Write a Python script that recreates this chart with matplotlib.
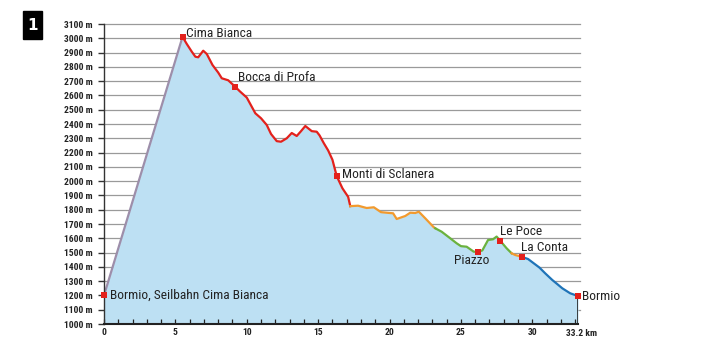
import matplotlib
matplotlib.use("Agg")
import matplotlib.pyplot as plt
from matplotlib.patches import Rectangle
from matplotlib import font_manager
from matplotlib.font_manager import FontProperties
import numpy as np, os

# ---- data ----
cable_km = [0.0, 5.5]
cable_el = [1200, 3010]

red_km = [5.5, 5.8, 6.15, 6.4, 6.6, 6.95, 7.2, 7.6, 8.0, 8.25, 8.7, 9.2, 9.5, 10.0, 10.3, 10.6,
          11.0, 11.4, 11.7, 12.1, 12.4, 12.8, 13.15, 13.5, 13.8, 14.1, 14.55, 14.9, 15.1, 15.4,
          15.7, 16.0, 16.3, 16.7, 17.1, 17.25]
red_el = [3010, 2960, 2906, 2871, 2867, 2913, 2890, 2813, 2760, 2720, 2706, 2660, 2630, 2585, 2530, 2475,
          2440, 2393, 2330, 2280, 2276, 2300, 2337, 2316, 2350, 2386, 2350, 2346, 2320, 2265,
          2215, 2150, 2035, 1950, 1890, 1825]

orange1_km = [17.25, 17.8, 18.4, 18.9, 19.4, 19.9, 20.25, 20.5, 21.1, 21.45, 21.8, 22.05, 22.5, 23.1, 23.2]
orange1_el = [1825, 1828, 1812, 1817, 1783, 1778, 1775, 1735, 1756, 1779, 1777, 1786, 1740, 1677, 1670]

green_km = [23.2, 23.65, 24.25, 24.7, 25.0, 25.4, 25.9, 26.23, 26.5, 26.9, 27.25, 27.5, 27.75, 28.2, 28.55]
green_el = [1670, 1646, 1600, 1565, 1545, 1541, 1506, 1506, 1515, 1588, 1593, 1612, 1583, 1530, 1495]

orange2_km = [28.55, 28.8, 29.27]
orange2_el = [1495, 1483, 1470]

blue_km = [29.27, 29.7, 30.1, 30.5, 30.9, 31.4, 31.8, 32.1, 32.65, 33.2]
blue_el = [1470, 1455, 1425, 1395, 1355, 1308, 1275, 1250, 1215, 1196]

wp_names = ["Bormio, Seilbahn Cima Bianca", "Cima Bianca", "Bocca di Profa", "Monti di Sclanera",
            "Piazzo", "Le Poce", "La Conta", "Bormio"]
wp_km = [0.0, 5.5, 9.2, 16.3, 26.23, 27.75, 29.27, 33.2]
wp_el = [1200, 3010, 2660, 2035, 1506, 1583, 1470, 1196]

y_ticks = list(range(1000, 3101, 100))
x_major = [0, 5, 10, 15, 20, 25, 30]
total_km = 33.2

# ---- find a narrow/condensed font file ----
files = font_manager.findSystemFonts()
def pick(keys, bold=False):
    for k in keys:
        for f in sorted(files):
            b = os.path.basename(f)
            if k.lower() in b.lower():
                isbold = "bold" in b.lower()
                if ("italic" in b.lower() or "oblique" in b.lower()):
                    continue
                if isbold == bold:
                    return f
    return None

order = ["LiberationSansNarrow", "RobotoCondensed", "Roboto_Condensed", "DejaVuSansCondensed", "OpenSans_Condensed", "OpenSansCondensed"]
reg_file = pick(order, bold=False)
bold_file = pick(order, bold=True) or reg_file

def fp(size, bold=False):
    f = bold_file if bold else reg_file
    if f:
        return FontProperties(fname=f, size=size)
    return FontProperties(family="Roboto", stretch="condensed", size=size, weight="bold" if bold else "normal")

tick_fp = fp(6.8, bold=True)
lab_fp = fp(9.6)

# ---- figure ----
fig = plt.figure(figsize=(7.12, 3.52), dpi=100)
ax = fig.add_axes([104/712, 28/352, 474/712, 300/352])
ax.set_xlim(0, total_km)
ax.set_ylim(1000, 3100)

for yv in y_ticks[1:]:
    ax.plot([0, total_km + 0.15], [yv, yv], color="#9a9a9a", lw=0.9, zorder=0, clip_on=False)

all_km = np.concatenate([cable_km, red_km[1:], orange1_km[1:], green_km[1:], orange2_km[1:], blue_km[1:]])
all_el = np.concatenate([cable_el, red_el[1:], orange1_el[1:], green_el[1:], orange2_el[1:], blue_el[1:]])
ax.fill_between(all_km, 1000, all_el, color="#bde0f3", lw=0, zorder=1)

ax.plot(cable_km, cable_el, color="#9d8eaa", lw=1.6, zorder=3)
ax.plot(red_km, red_el, color="#e3211c", lw=1.6, zorder=3)
ax.plot(orange1_km, orange1_el, color="#f29a2e", lw=1.6, zorder=3)
ax.plot(green_km, green_el, color="#6bb23f", lw=1.6, zorder=3)
ax.plot(orange2_km, orange2_el, color="#f29a2e", lw=1.6, zorder=3)
ax.plot(blue_km, blue_el, color="#1f74b8", lw=1.6, zorder=3)

ax.plot([total_km, total_km], [1000, blue_el[-1]], color="#222222", lw=1.2, zorder=3)

ax.scatter(wp_km, wp_el, s=14, marker="s", color="#e3211c", zorder=5, lw=0, clip_on=False)

offsets = {
    "Bormio, Seilbahn Cima Bianca": (0.45, 0, "left"),
    "Cima Bianca": (0.25, 25, "left"),
    "Bocca di Profa": (0.2, 66, "left"),
    "Monti di Sclanera": (0.35, 15, "left"),
    "Piazzo": (-0.5, -65, "center"),
    "Le Poce": (0.0, 62, "left"),
    "La Conta": (-0.08, 67, "left"),
    "Bormio": (0.25, 0, "left"),
}
for n, xk, ye in zip(wp_names, wp_km, wp_el):
    dx, dy, ha = offsets[n]
    ax.text(xk + dx, ye + dy, n, ha=ha, va="center", zorder=6, color="#222222", fontproperties=lab_fp)

for s in ["top", "right"]:
    ax.spines[s].set_visible(False)
ax.spines["left"].set_linewidth(1.0)
ax.spines["left"].set_color("#333333")
ax.spines["left"].set_zorder(4)
ax.spines["bottom"].set_linewidth(1.5)
ax.spines["bottom"].set_color("#222222")
ax.spines["bottom"].set_zorder(6)

ax.set_yticks(y_ticks)
ax.set_yticklabels([f"{v} m" for v in y_ticks])
ax.tick_params(axis="y", direction="out", length=4, width=1.0, color="#333333", pad=4)
ax.set_xticks(x_major)
ax.set_xticklabels([str(v) for v in x_major])
ax.set_xticks(list(range(1, 34)), minor=True)
ax.tick_params(axis="x", which="both", direction="in", length=3.5, width=0.9, color="#222222", pad=3)
for t in ax.get_yticklabels() + ax.get_xticklabels():
    t.set_fontproperties(tick_fp)
    t.set_color("#222222")
ax.annotate("33.2 km", xy=(total_km, 0), xycoords=("data", "axes fraction"),
            xytext=(-9, -3.5), textcoords="offset points", ha="left", va="top",
            fontproperties=tick_fp, color="#222222")

fig.patches.append(Rectangle((23/712, (352-39)/352), 19/712, 28/352, transform=fig.transFigure,
                             color="black", zorder=10))
fig.text(32.5/712, (352-25)/352, "1", color="white", fontsize=11, fontweight="bold",
         ha="center", va="center", zorder=11)

fig.savefig("out.png", dpi=100)
